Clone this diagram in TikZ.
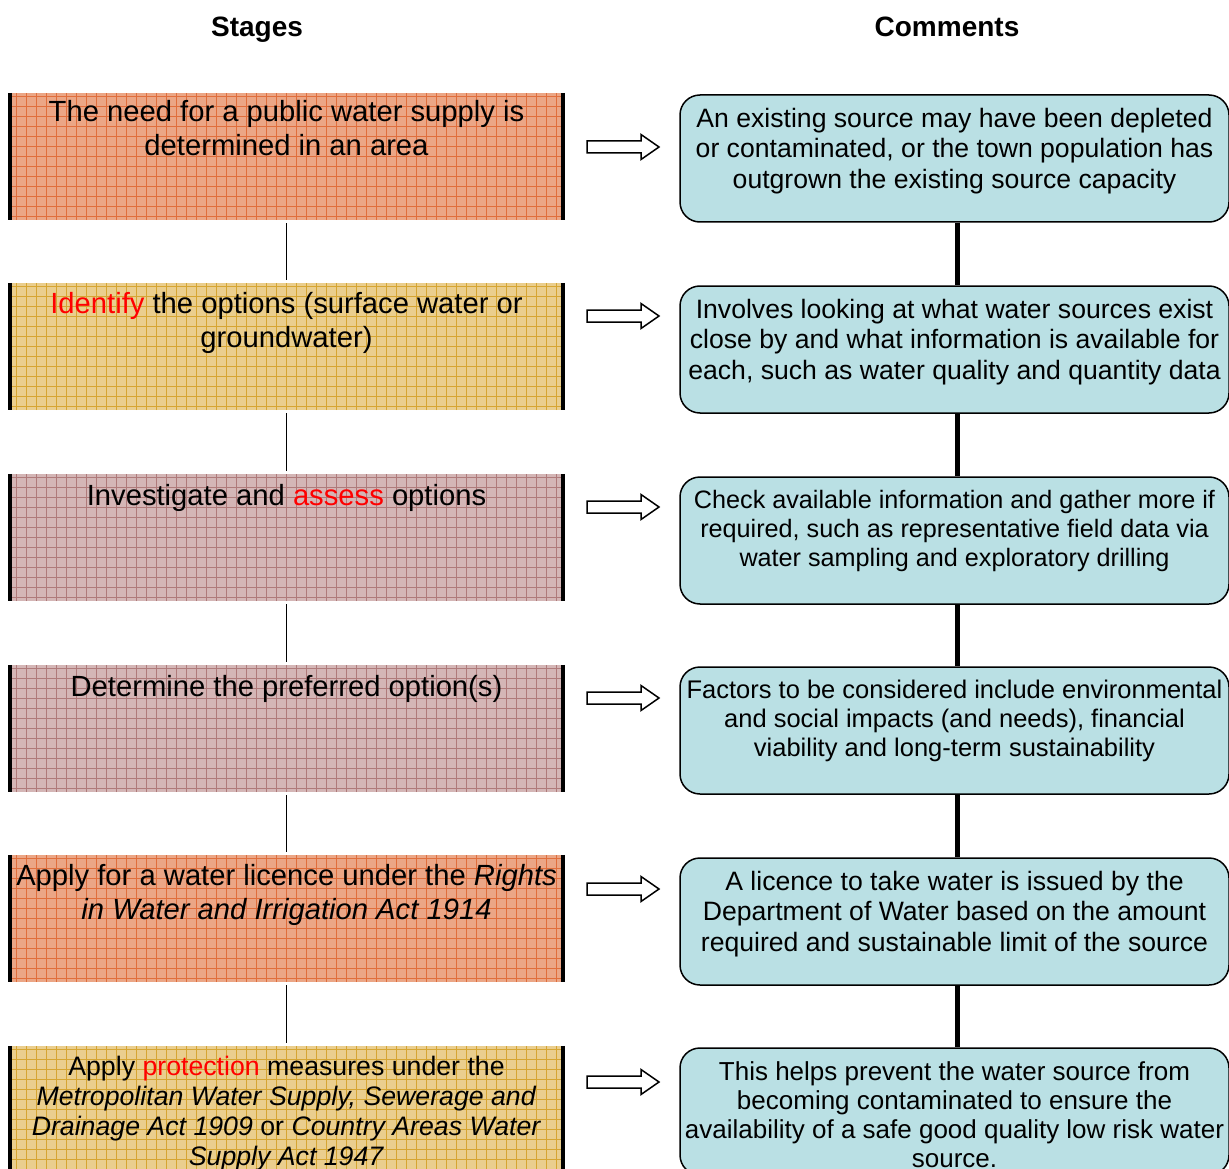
\documentclass[tikz,border=0pt]{standalone}
\usepackage{fontspec}
\setmainfont{Liberation Sans}
\usetikzlibrary{positioning, calc}
\definecolor{stageorange}{RGB}{235,166,134}
\definecolor{gridorange}{RGB}{224,110,60}
\definecolor{stageyellow}{RGB}{234,206,142}
\definecolor{gridyellow}{RGB}{214,165,50}
\definecolor{stagemauve}{RGB}{212,182,182}
\definecolor{gridmauve}{RGB}{175,122,122}
\definecolor{commentblue}{RGB}{186,224,228}

\begin{document}
\begin{tikzpicture}[x=1pt, y=-1pt,
    stage/.style 2 args={minimum width=557pt, minimum height=127pt, inner sep=0pt, fill=#1,
        path picture={\draw[#2, line width=0.7pt] (path picture bounding box.south west) grid[step=10pt] (path picture bounding box.north east);}},
    stagetext/.style={inner sep=0pt, align=center, font=\fontsize{29.2}{34}\selectfont},
    comment/.style={draw, line width=1.5pt, rounded corners=20pt, fill=commentblue,
        minimum width=549pt, minimum height=127pt, inner sep=0pt},
    commenttext/.style={inner sep=0pt, align=center, font=\fontsize{26.6}{30.5}\selectfont},
    hdr/.style={anchor=base, font=\bfseries\fontsize{28}{32}\selectfont}]
    \useasboundingbox (0,0) rectangle (1229,1169);

    % Headers
    \node[hdr] (hstages) at (257,37) {Stages};
    \node[hdr] (hcomments) at (947,37) {Comments};

    % Stages
    \node[stage={stageorange}{gridorange}] (s1) at (286.5,156.5) {};
    \node[stage={stageyellow}{gridyellow}] (s2) at (286.5,346.5) {};
    \node[stage={stagemauve}{gridmauve}] (s3) at (286.5,537.5) {};
    \node[stage={stagemauve}{gridmauve}] (s4) at (286.5,728.5) {};
    \node[stage={stageorange}{gridorange}] (s5) at (286.5,918.5) {};
    \node[stage={stageyellow}{gridyellow}] (s6) at (286.5,1109.5) {};
    \foreach \s in {s1,s2,s3,s4,s5,s6} {
        \draw[line width=4.5pt] ([xshift=2.25pt]\s.north west) -- ([xshift=2.25pt]\s.south west);
        \draw[line width=4.5pt] ([xshift=-2.25pt]\s.north east) -- ([xshift=-2.25pt]\s.south east);
    }
    \node[stagetext, below=7.5pt of s1.north] (t1) {The need for a public water supply is\\determined in an area};
    \node[stagetext, below=9pt of s2.north] (t2) {\textcolor{red}{Identify} the options (surface water or\\groundwater)};
    \node[stagetext, below=10pt of s3.north] (t3) {Investigate and \textcolor{red}{assess} options};
    \node[stagetext, below=10pt of s4.north] (t4) {Determine the preferred option(s)};
    \node[stagetext, below=9pt of s5.north] (t5) {Apply for a water licence under the \textit{Rights}\\\textit{in Water and Irrigation Act 1914}};
    \node[stagetext, font=\fontsize{26.7}{30}\selectfont, below=10pt of s6.north] (t6) {Apply \textcolor{red}{protection} measures under the\\\textit{Metropolitan Water Supply, Sewerage and}\\\textit{Drainage Act 1909} or \textit{Country Areas Water}\\\textit{Supply Act 1947}};

    % Comments
    \node[comment] (c1) at (954.5,158.5) {};
    \node[comment] (c2) at (954.5,349.5) {};
    \node[comment] (c3) at (954.5,540.5) {};
    \node[comment] (c4) at (954.5,730.5) {};
    \node[comment] (c5) at (954.5,921.5) {};
    \node[comment] (c6) at (954.5,1111.5) {};
    \node[commenttext, below=13.5pt of c1.north] (d1) {An existing source may have been depleted\\or contaminated, or the town population has\\outgrown the existing source capacity};
    \node[commenttext, below=13.5pt of c2.north] (d2) {Involves looking at what water sources exist\\close by and what information is available for\\each, such as water quality and quantity data};
    \node[commenttext, font=\fontsize{25.2}{29}\selectfont, below=14pt of c3.north] (d3) {Check available information and gather more if\\required, such as representative field data via\\water sampling and exploratory drilling};
    \node[commenttext, font=\fontsize{25.5}{29}\selectfont, below=14pt of c4.north] (d4) {Factors to be considered include environmental\\and social impacts (and needs), financial\\viability and long-term sustainability};
    \node[commenttext, below=13.5pt of c5.north] (d5) {A licence to take water is issued by the\\Department of Water based on the amount\\required and sustainable limit of the source};
    \node[commenttext, font=\fontsize{26}{29}\selectfont, below=14pt of c6.north] (d6) {This helps prevent the water source from\\becoming contaminated to ensure the\\availability of a safe good quality low risk water\\source.};

    % Links between the rows
    \foreach \a/\b in {1/2,2/3,3/4,4/5,5/6} {
        \draw[line width=1.3pt, shorten <=3pt, shorten >=3pt] (s\a) -- (s\b);
        \draw[line width=5pt] ([xshift=2.5pt]c\a.south) -- ([xshift=2.5pt]c\b.north);
    }

    % Block arrows
    \foreach \yy in {147,316,507,698,889,1082} {
        \draw[line width=1.5pt, fill=white, line join=miter]
            (587,\yy-6) -- (641,\yy-6) -- (641,\yy-12.5) -- (659,\yy) -- (641,\yy+12.5) -- (641,\yy+6) -- (587,\yy+6) -- cycle;
    }
\end{tikzpicture}
\end{document}
